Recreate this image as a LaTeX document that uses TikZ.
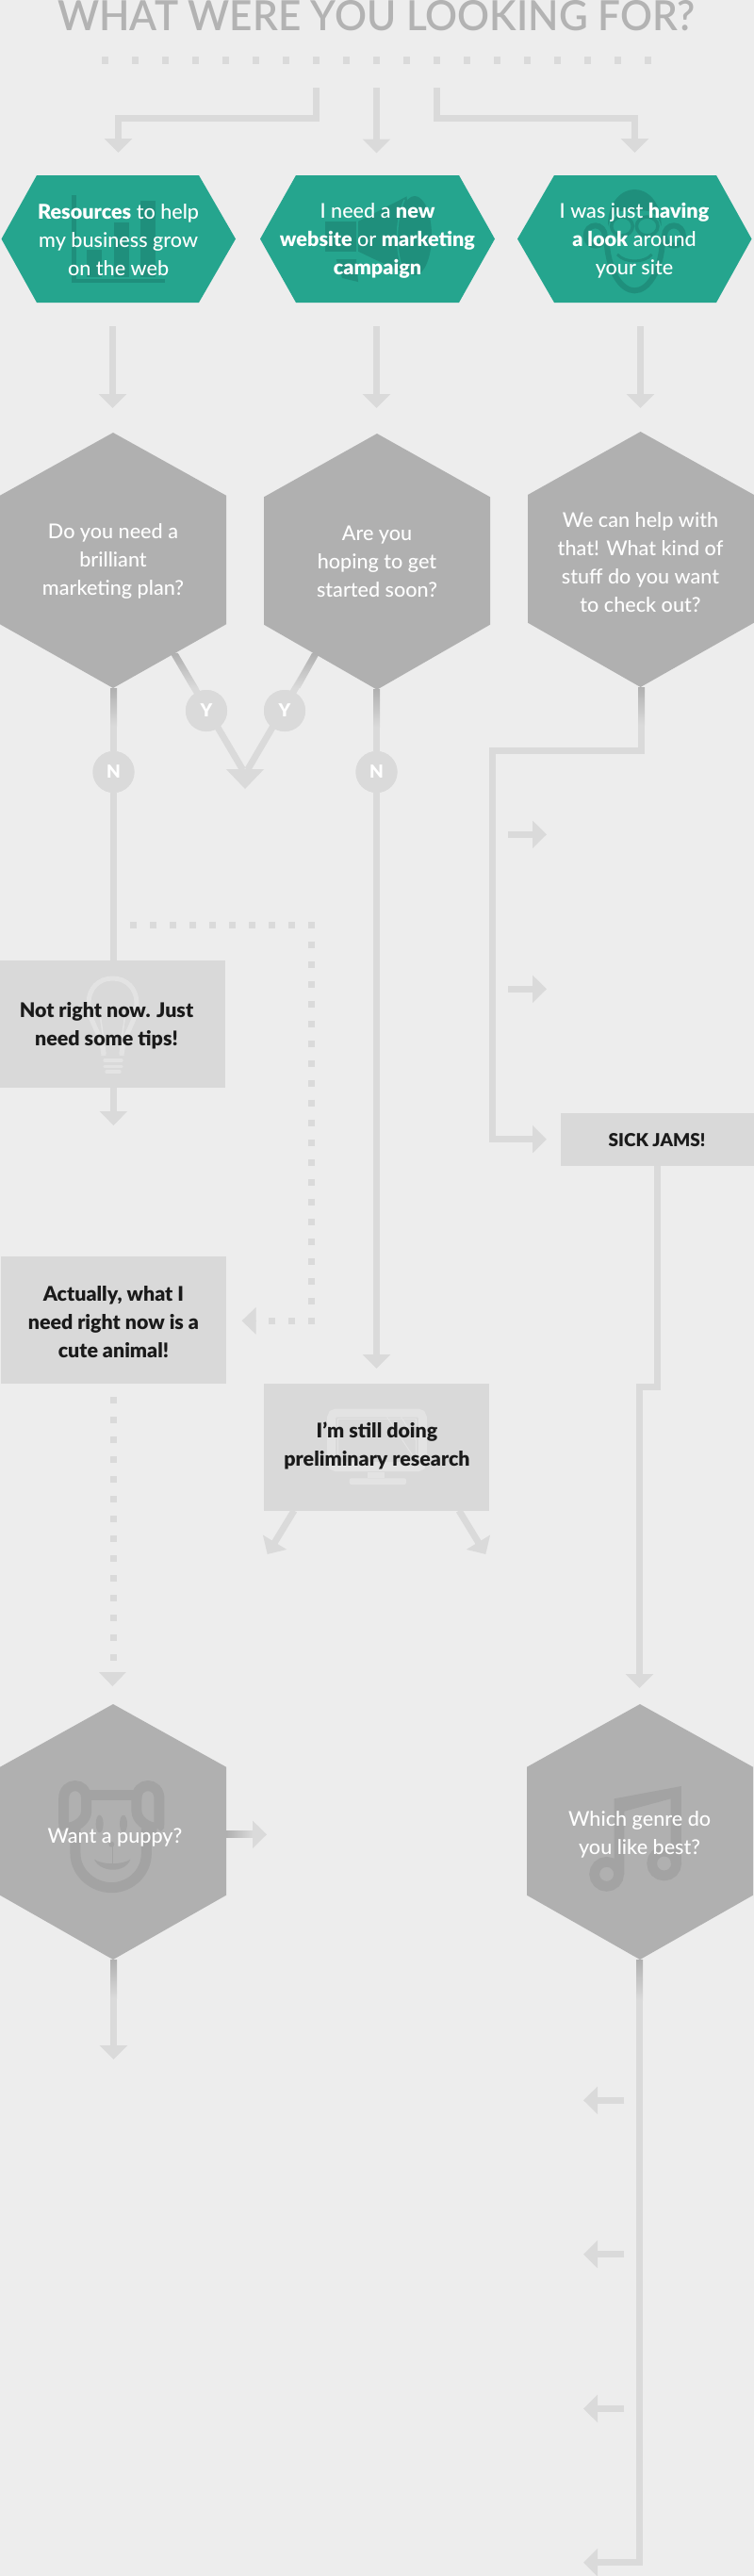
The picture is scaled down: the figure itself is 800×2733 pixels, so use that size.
\documentclass[tikz,border=0pt]{standalone}
\usepackage{fontspec}
\setmainfont{Lato Medium}[BoldFont={Lato Black}]
\newfontfamily\titlefont{Lato Semibold}
\usetikzlibrary{arrows.meta,calc}
\definecolor{bgc}{HTML}{EDEDED}
\definecolor{lineg}{HTML}{DADADA}
\definecolor{hexg}{HTML}{B0B0B0}
\definecolor{iconh}{HTML}{A3A3A3}
\definecolor{teal1}{HTML}{25A58E}
\definecolor{teal2}{HTML}{1F8F7C}
\definecolor{boxg}{HTML}{D9D9D9}
\definecolor{iconb}{HTML}{E3E3E3}
\definecolor{titleg}{HTML}{B3B3B3}
\definecolor{ink}{HTML}{1A1A1A}
\tikzset{
  flow/.style={draw=lineg,line width=7pt,-{Triangle[length=15pt,width=28.6pt,fill=lineg]}},
  bare/.style={draw=lineg,line width=7pt},
  dots/.style={draw=lineg,line width=7pt,dash pattern=on 7pt off 14pt},
  wtxt/.style={text=white,align=center,inner sep=0pt,font=\fontsize{21.6}{30}\selectfont},
  btxt/.style={text=ink,align=center,inner sep=0pt,font=\fontsize{21.4}{30}\selectfont\bfseries},
  yn/.style={circle,fill=lineg,minimum size=44pt,inner sep=0pt,text=white,font=\fontsize{19}{19}\selectfont\bfseries},
  box/.style={fill=boxg,inner sep=0pt,rectangle},
  fade/.style={top color=hexg,bottom color=lineg,draw=none}
}
\begin{document}
\begin{tikzpicture}[x=1pt,y=-1pt]
\useasboundingbox (0,0) rectangle (800,2733);
\fill[bgc] (0,0) rectangle (800,2733);

% title
\node[anchor=base,inner sep=0pt,text=titleg,font=\fontsize{44}{44}\titlefont] (title) at (399.5,32.5) {\scalebox{0.961}[1]{WHAT WERE YOU LOOKING FOR?}};
\coordinate (dotsL) at (108,64);
\coordinate (dotsR) at (691,64);
\draw[draw=lineg,line width=8pt,dash pattern=on 7pt off 25pt] (dotsL) -- (dotsR);

% named ends
\coordinate (sL) at (335.5,93);
\coordinate (sM) at (399.5,93);
\coordinate (sR) at (463.5,93);
\coordinate (eL) at (125.5,162);
\coordinate (eM) at (399.5,162.5);
\coordinate (eR) at (673.5,162);
\draw[flow] (sL) -- (sL |- 0,125.5) -- (eL |- 0,125.5) -- (eL);
\draw[flow] (sM) -- (eM);
\draw[flow] (sR) -- (sR |- 0,125.5) -- (eR |- 0,125.5) -- (eR);

% green hexagons
\fill[teal1] (1.5,253.5) -- (39,186) -- (211,186) -- (250,253.5) -- (211,321) -- (39,321) -- cycle;
\fill[teal1] (276,253.5) -- (314,186) -- (487,186) -- (525,253.5) -- (487,321) -- (314,321) -- cycle;
\fill[teal1] (549,253.5) -- (588,186) -- (760,186) -- (797.5,253.5) -- (760,321) -- (588,321) -- cycle;

% bar chart icon
\fill[teal2] (76,207) rectangle (80.7,300);
\fill[teal2] (76,295.7) rectangle (175,300);
\fill[teal2] (92.3,265) rectangle (108.3,294);
\fill[teal2] (121,236) rectangle (136.7,294);
\fill[teal2] (149.3,213) rectangle (165.3,294);

% megaphone icon
\fill[teal2] (345,235) rectangle (378,266.7);
\fill[teal2] (380,235) -- (431.7,208.3) -- (433.3,292.3) -- (380,266.7) -- cycle;
\fill[teal2] (440,250) ellipse [x radius=18, y radius=42];
\draw[teal1,line width=1.5pt] (429,212) .. controls (419,235) and (419,268) .. (429,290);
\fill[teal2] (356.7,275) -- (378,275) -- (380,299) -- (363,295) -- cycle;

% monkey icon
\begin{scope}[shift={(610,190)},x=0.3333pt,y=-0.3333pt]
\draw[teal2,line width=6pt,fill=teal1] (65,180) ellipse [x radius=30, y radius=32];
\draw[teal2,line width=6pt,fill=teal1] (315,180) ellipse [x radius=30, y radius=32];
\draw[teal2,line width=6pt] (100,185) .. controls (105,300) and (150,355) .. (190,355) .. controls (230,355) and (275,300) .. (280,185);
\fill[teal2] (105,150) .. controls (105,70) and (150,33) .. (190,33) .. controls (230,33) and (275,70) .. (275,150) .. controls (265,110) and (235,90) .. (190,105) .. controls (145,90) and (115,110) .. (105,150) -- cycle;
\draw[teal2,line width=3.5pt] (150,150) ellipse [x radius=34, y radius=30];
\draw[teal2,line width=3.5pt] (230,150) ellipse [x radius=34, y radius=30];
\draw[teal2,line width=3pt] (135,240) .. controls (160,268) and (220,268) .. (245,240);
\end{scope}

\node[wtxt] (g1) at (125.6,255) {\textbf{Resources} to help\\my business grow\\on the web};
\node[wtxt] (g2) at (400.5,255) {I need a \textbf{new}\\\textbf{website} or \textbf{marketing}\\\textbf{campaign}};
\node[wtxt] (g3) at (673,255) {I was just \textbf{having}\\\textbf{a look} around\\your site};

% arrows below green
\coordinate (aL) at (119.5,346);
\coordinate (aM) at (399.5,346);
\coordinate (aR) at (679.5,346);
\coordinate (bL) at (119.5,433);
\coordinate (bM) at (399.5,433);
\coordinate (bR) at (679.5,433);
\draw[flow] (aL) -- (bL);
\draw[flow] (aM) -- (bM);
\draw[flow] (aR) -- (bR);

% Y branch
\node[yn] (y1) at (219,754) {Y};
\node[yn] (y2) at (302,754) {Y};
\coordinate (d1) at (184.7,693.3);
\coordinate (d2) at (335,693.3);
\coordinate (vbase) at (260,816);
\coordinate (vtip) at (260,837);
\draw[bare] (d1) -- (257.6,816.7);
\draw[bare] (d2) -- (262.7,816.7);
\shade[fade] (180.6,693) -- (188.8,693) -- (210.5,730) -- (202.3,730) -- cycle;
\shade[fade] (331,693) -- (339.1,693) -- (318.5,730) -- (310.4,730) -- cycle;
\draw[flow,-{Triangle[length=21pt,width=40pt,fill=lineg]},line width=1pt] (vbase) -- (vtip);
\node[yn] at (y1) {Y};
\node[yn] at (y2) {Y};

% N branch connectors
\coordinate (h1b) at (120.5,730);
\coordinate (h2b) at (399.5,731.7);
\coordinate (h3b) at (680.5,729);
\node[box,minimum width=239pt,minimum height=135pt] (r1) at (119.5,1086.5) {};
\node[box,minimum width=239pt,minimum height=135pt] (r2) at (120.5,1400.5) {};
\node[box,minimum width=239pt,minimum height=134.7pt] (r3) at (399.5,1535.3) {};
\node[box,minimum width=205pt,minimum height=55.7pt] (r4) at (697.5,1208.9) {};
\coordinate (r1tip) at (120.4,1194);
\coordinate (m2tip) at (399.5,1452);
\node[yn] (n1) at (120.5,819) {N};
\node[yn] (n2) at (399.5,819) {N};
\draw[bare] (h1b) -- (n1);
\draw[bare] (n1) -- (r1.north -| n1);
\draw[flow] (r1.south -| r1tip) -- (r1tip);
\draw[bare] (h2b) -- (n2);
\draw[flow] (n2) -- (m2tip);
\node[yn] at (n1) {N};
\node[yn] at (n2) {N};

% hex3 branch
\coordinate (j1) at (522.5,796.3);
\coordinate (j2) at (580,1208.7);
\draw[flow] (h3b) -- (h3b |- j1) -- (j1) -- (j1 |- j2) -- (j2);
\coordinate (a1s) at (539,885.3);
\coordinate (a1e) at (580,885.3);
\coordinate (a2s) at (539,1049.3);
\coordinate (a2e) at (580,1049.3);
\draw[flow] (a1s) -- (a1e);
\draw[flow] (a2s) -- (a2e);

% sick jams onward
\coordinate (k1) at (697.5,1471.5);
\coordinate (k2) at (678.5,1791);
\draw[flow] (r4.south) -- (k1) -- (k1 -| k2) -- (k2);

% dotted routes
\coordinate (p1) at (138,981.3);
\coordinate (p2) at (334,981.3);
\coordinate (p3) at (330.6,998.8);
\coordinate (p4) at (330.6,1405);
\coordinate (p5) at (334,1401.3);
\coordinate (p6) at (285,1401.3);
\coordinate (p7) at (271.5,1401.3);
\coordinate (p8) at (256.6,1401.3);
\draw[dots] (p1) -- (p2);
\draw[dots] (p3) -- (p4);
\draw[dots] (p5) -- (p6);
\draw[flow,line width=1pt] (p7) -- (p8);
\coordinate (q1) at (120.4,1482);
\coordinate (q2) at (120.4,1763);
\coordinate (q3) at (119.4,1773.5);
\coordinate (q4) at (119.4,1789);
\draw[dots] (q1) -- (q2);
\draw[flow,line width=1pt] (q3) -- (q4);

% arrows out of r3
\coordinate (o1) at (283.7,1649);
\coordinate (o2) at (515.3,1649);
\draw[flow] (312,1602.7) -- (o1);
\draw[flow] (487,1602.7) -- (o2);

% grey hexagons
\fill[hexg] (120,459) -- (240,525.7) -- (240,662.3) -- (120,730) -- (0,662.3) -- (0,525.7) -- cycle;
\fill[hexg] (400,460) -- (520,527.3) -- (520,662.7) -- (400,731.7) -- (280,662.7) -- (280,527.3) -- cycle;
\fill[hexg] (679.6,458) -- (800,525) -- (800,660.7) -- (679.6,729) -- (560,660.7) -- (560,525) -- cycle;
\fill[hexg] (120,1808) -- (240,1874.7) -- (240,2010.7) -- (120,2079) -- (0,2010.7) -- (0,1874.7) -- cycle;
\fill[hexg] (679,1808) -- (799,1874.7) -- (799,2010.7) -- (679,2079) -- (559,2010.7) -- (559,1874.7) -- cycle;

% fades under grey hexagons
\shade[fade] (117,730) rectangle (124,770);
\shade[fade] (396,731) rectangle (403,771);
\shade[fade] (677,729) rectangle (684,769);

\node[wtxt] (q1t) at (120,595) {Do you need a\\brilliant\\marketing plan?};
\node[wtxt] (q2t) at (400,596) {Are you\\hoping to get\\started soon?};
\node[wtxt] (q3t) at (679.5,597) {We can help with\\that! What kind of\\stuff do you want\\to check out?};

% bulb icon
\draw[iconb,line width=5pt] (110,1120) .. controls (108,1095) and (94,1085) .. (94,1065) .. controls (94,1048) and (105,1038) .. (119.5,1038) .. controls (134,1038) and (145,1048) .. (145,1065) .. controls (145,1085) and (131,1095) .. (129,1120);
\draw[iconb,line width=1.5pt] (112,1118) -- (106,1075);
\draw[iconb,line width=1.5pt] (127,1118) -- (133,1075);
\draw[iconb,line width=3.5pt,line cap=round] (111,1125) -- (129,1125);
\draw[iconb,line width=3.5pt,line cap=round] (111,1131.5) -- (129,1131.5);
\draw[iconb,line width=3.5pt,line cap=round] (113,1137) -- (127,1137);
\node[btxt] (t1) at (113,1088) {Not right now. Just\\need some tips!};
\node[btxt] (t2) at (120.4,1403) {Actually, what I\\need right now is a\\cute animal!};

% monitor icon
\begin{scope}[shift={(340,1485)},x=0.3333pt,y=-0.3333pt]
\draw[iconb,line width=9pt,rounded corners=5pt] (35,42) rectangle (325,215);
\draw[iconb,line width=1.5pt] (55,62) rectangle (305,200);
\draw[iconb,line width=1pt] (205,45) -- (305,195);
\draw[iconb,line width=1pt] (250,45) -- (305,130);
\fill[iconb] (150,230) rectangle (205,250);
\fill[iconb,rounded corners=2pt] (92,250) rectangle (273,270);
\end{scope}
\node[btxt] (t3) at (400,1534) {I’m still doing\\preliminary research};
\node[inner sep=0pt,text=ink,font=\fontsize{19}{19}\selectfont\bfseries] (t4) at (697,1209.3) {SICK JAMS!};

% puppy icon
\begin{scope}[shift={(50,1880)},x=0.3333pt,y=-0.3333pt,iconh,line width=11pt]
\draw[iconh] (60,178) .. controls (53,175) and (53,170) .. (53,160) -- (53,85) .. controls (53,30) and (125,30) .. (125,85) -- (125,125) .. controls (125,150) and (95,178) .. (60,178);
\draw[iconh] (350,178) .. controls (357,175) and (357,170) .. (357,160) -- (357,85) .. controls (357,30) and (285,30) .. (285,85) -- (285,125) .. controls (285,150) and (315,178) .. (350,178);
\draw[iconh] (120,73) -- (290,73);
\draw[iconh] (90,180) -- (90,260) .. controls (90,320) and (145,368) .. (205,368) .. controls (265,368) and (316,320) .. (316,260) -- (316,180);
\fill[iconh] (167,165) ellipse [x radius=12, y radius=28];
\fill[iconh] (243,165) ellipse [x radius=12, y radius=28];
\fill[iconh] (205,230) circle [radius=9];
\draw[iconh,line width=1.5pt] (209,235) -- (209,292);
\fill[iconh] (150,278) .. controls (175,296) and (240,296) .. (265,278) .. controls (250,322) and (170,322) .. (150,278) -- cycle;
\end{scope}
\node[wtxt] (q4t) at (122,1949) {Want a puppy?};

% music icon
\begin{scope}[shift={(610,1880)},x=0.3333pt,y=-0.3333pt]
\fill[iconh] (125,85) -- (339,45) -- (339,290) -- (305,290) -- (305,85) -- (157,125) -- (157,325) -- (125,325) -- cycle;
\draw[iconh,line width=10.7pt] (101,325) ellipse [x radius=39, y radius=39];
\draw[iconh,line width=10.7pt] (284,291) ellipse [x radius=39, y radius=39];
\end{scope}
\node[wtxt] (q5t) at (678.6,1946) {Which genre do\\you like best?};

% from puppy hexagon
\coordinate (h4r) at (240,1946.3);
\coordinate (h4e) at (283,1946.3);
\coordinate (h4b) at (120.5,2079);
\coordinate (h4t) at (120.5,2185);
\draw[flow] (h4r) -- (h4e);
\shade[left color=hexg,right color=lineg,draw=none] (240,1942.8) rectangle (268,1949.8);
\draw[flow] (h4b) -- (h4t);
\shade[fade] (117,2079) rectangle (124,2120);

% from genre hexagon
\coordinate (h5b) at (678.5,2079);
\coordinate (h5c) at (678.5,2718.7);
\coordinate (h5e) at (619,2718.7);
\draw[flow] (h5b) -- (h5c) -- (h5e);
\shade[fade] (675,2079) rectangle (682,2122);
\coordinate (l1s) at (662,2228.3);
\coordinate (l1e) at (619,2228.3);
\coordinate (l2s) at (662,2391.7);
\coordinate (l2e) at (619,2391.7);
\coordinate (l3s) at (662,2555.4);
\coordinate (l3e) at (619,2555.4);
\draw[flow] (l1s) -- (l1e);
\draw[flow] (l2s) -- (l2e);
\draw[flow] (l3s) -- (l3e);
\end{tikzpicture}
\end{document}
